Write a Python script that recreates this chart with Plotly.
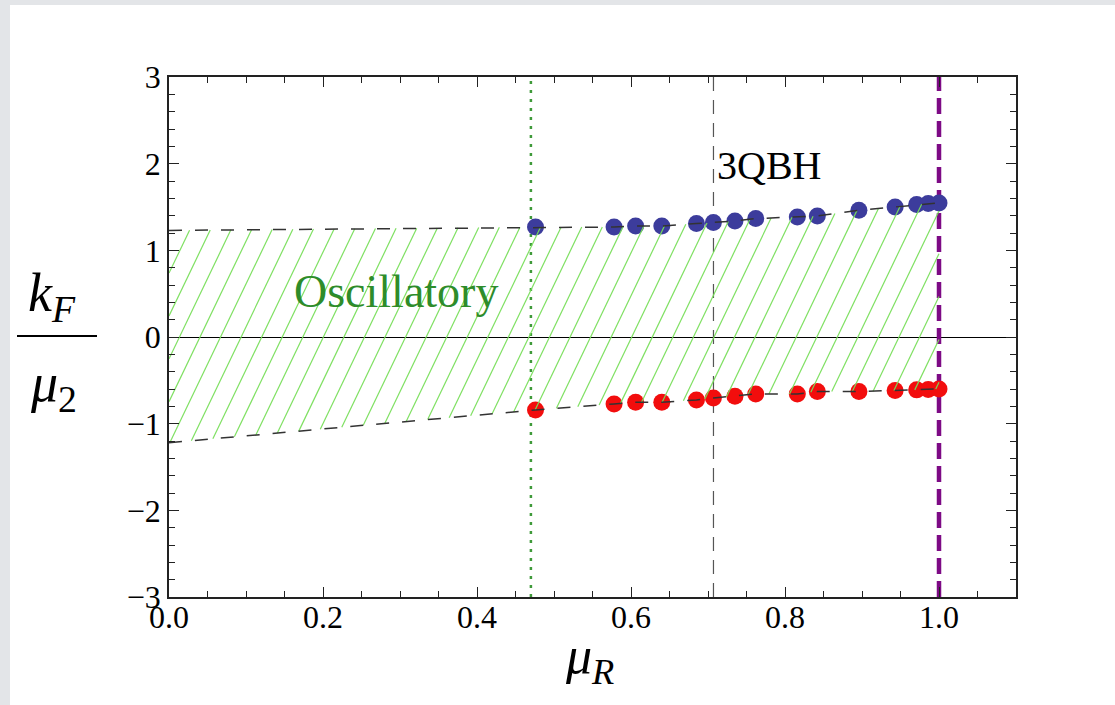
import numpy as np
import plotly.graph_objects as go

# ---- data ----
mu_R = [0.476, 0.578, 0.606, 0.640, 0.685, 0.707, 0.735, 0.762, 0.816, 0.842,
        0.896, 0.943, 0.971, 0.986, 1.0]
kF_upper = [1.269, 1.269, 1.281, 1.281, 1.309, 1.320, 1.339, 1.366, 1.385, 1.397,
            1.462, 1.501, 1.528, 1.540, 1.547]
kF_lower = [-0.842, -0.772, -0.754, -0.754, -0.726, -0.703, -0.684, -0.657, -0.657,
            -0.630, -0.630, -0.618, -0.610, -0.607, -0.599]
# boundary extension to mu_R = 0
edge_x = [0.0]
edge_upper = [1.23]
edge_lower = [-1.22]

x_green = 0.47            # dotted green line
x_3qbh = 0.7071           # 1/sqrt(2), 3QBH
x_purple = 1.0            # thick purple dashed

x_ticks = [0.0, 0.2, 0.4, 0.6, 0.8, 1.0]
x_ticklabels = ["0.0", "0.2", "0.4", "0.6", "0.8", "1.0"]
y_ticks = [-3, -2, -1, 0, 1, 2, 3]
y_ticklabels = ["\u22123", "\u22122", "\u22121", "0", "1", "2", "3"]

# ---- figure geometry ----
W, H = 1115, 705
L, R, T, B = 169, 99, 77, 108
pw, ph = W - L - R, H - T - B
def px2paper_x(px): return (px - L) / pw
def px2paper_y(py): return (H - B - py) / ph

bx = np.array(edge_x + mu_R)
bu = np.array(edge_upper + kF_upper)
bl = np.array(edge_lower + kF_lower)

fig = go.Figure()

# vertical lines
fig.add_trace(go.Scatter(x=[x_green, x_green], y=[-3, 3], mode="lines",
                         line=dict(color="#3f9a3a", width=2.5, dash="3px,6px"),
                         hoverinfo="skip", showlegend=False))
fig.add_trace(go.Scatter(x=[x_3qbh, x_3qbh], y=[-3, 3], mode="lines",
                         line=dict(color="#555555", width=1.2, dash="14px,9px"),
                         hoverinfo="skip", showlegend=False))
fig.add_trace(go.Scatter(x=[x_purple, x_purple], y=[-3, 3], mode="lines",
                         line=dict(color="#7d0a85", width=4.5, dash="16px,7px"),
                         hoverinfo="skip", showlegend=False))

# points
fig.add_trace(go.Scatter(x=mu_R, y=kF_upper, mode="markers",
                         marker=dict(color="#3c3c9c", size=17),
                         showlegend=False))
fig.add_trace(go.Scatter(x=mu_R, y=kF_lower, mode="markers",
                         marker=dict(color="#f20d0d", size=17),
                         showlegend=False))

# hatching of the oscillatory region (steep diagonal lines)
k = 0.054
spacing = 0.0267
ys = np.linspace(-1.4, 1.7, 4000)
hx, hy = [], []
for c in np.arange(-0.2, 1.05, spacing):
    xs = c + k * ys
    inside = (xs >= 0) & (xs <= x_purple) & (ys >= np.interp(xs, bx, bl)) & (ys <= np.interp(xs, bx, bu))
    if inside.any():
        yi = ys[inside]
        y0, y1 = yi.min(), yi.max()
        hx += [c + k * y0, c + k * y1, None]
        hy += [y0, y1, None]
fig.add_trace(go.Scatter(x=hx, y=hy, mode="lines",
                         line=dict(color="rgba(120,222,90,0.95)", width=1.2),
                         hoverinfo="skip", showlegend=False))

# dashed boundary lines
for yy in (bu, bl):
    fig.add_trace(go.Scatter(x=bx, y=yy, mode="lines",
                             line=dict(color="#333333", width=1.5, dash="13px,13px"),
                             hoverinfo="skip", showlegend=False))

# background panel (grey border, white sheet)
fig.add_shape(type="rect", xref="paper", yref="paper",
              x0=px2paper_x(10), x1=px2paper_x(W + 5),
              y0=px2paper_y(H + 5), y1=px2paper_y(5),
              fillcolor="white", line=dict(width=0), layer="below")

serif = "Liberation Serif, Times New Roman, serif"

# texts
fig.add_annotation(x=0.295, y=0.53, text="Oscillatory", showarrow=False,
                   font=dict(family=serif, size=46, color="#2e8c2a"))
fig.add_annotation(x=x_3qbh + 0.002, y=1.98, text="3QBH", showarrow=False,
                   xanchor="left", font=dict(family=serif, size=40, color="black"))

# axis titles
fig.add_annotation(xref="paper", yref="paper", x=px2paper_x(26), y=px2paper_y(296),
                   text="<i>k</i><sub><i>F</i></sub>", showarrow=False,
                   font=dict(family=serif, size=54, color="black"))
fig.add_shape(type="line", xref="paper", yref="paper",
              x0=px2paper_x(17), x1=px2paper_x(97),
              y0=px2paper_y(336), y1=px2paper_y(336),
              line=dict(color="black", width=2.2))
fig.add_annotation(xref="paper", yref="paper", x=px2paper_x(28), y=px2paper_y(386),
                   text="<i>\u03bc</i><sub>2</sub>", showarrow=False,
                   font=dict(family=serif, size=54, color="black"))
fig.add_annotation(xref="paper", yref="paper", x=px2paper_x(589), y=px2paper_y(694),
                   text="<i>\u03bc</i><sub><i>R</i></sub>", showarrow=False,
                   font=dict(family=serif, size=52, color="black"))

axis_common = dict(showline=True, linecolor="#222222", linewidth=1.5, mirror="allticks",
                   ticks="inside", ticklen=10, tickwidth=1.2, tickcolor="#222222",
                   showgrid=False, tickfont=dict(family=serif, size=32, color="black"))

fig.update_xaxes(range=[0, 1.1], tickvals=x_ticks, ticktext=x_ticklabels, zeroline=False,
                 ticklabelstandoff=-9,
                 minor=dict(dtick=0.05, tick0=0, ticks="inside", ticklen=6, tickwidth=1,
                            tickcolor="#222222", showgrid=False),
                 **axis_common)
fig.update_yaxes(range=[-3, 3], tickvals=y_ticks, ticktext=y_ticklabels,
                 zeroline=True, zerolinecolor="black", zerolinewidth=1.2,
                 minor=dict(dtick=0.2, tick0=0, ticks="inside", ticklen=6, tickwidth=1,
                            tickcolor="#222222", showgrid=False),
                 **axis_common)

fig.update_layout(width=W, height=H, margin=dict(l=L, r=R, t=T, b=B),
                  paper_bgcolor="#e3e5e8", plot_bgcolor="white",
                  showlegend=False)

fig.write_html("out.html", config={"displayModeBar": False},
               post_script="document.body.style.margin='0';"
                           "document.body.style.background='#e3e5e8';")
